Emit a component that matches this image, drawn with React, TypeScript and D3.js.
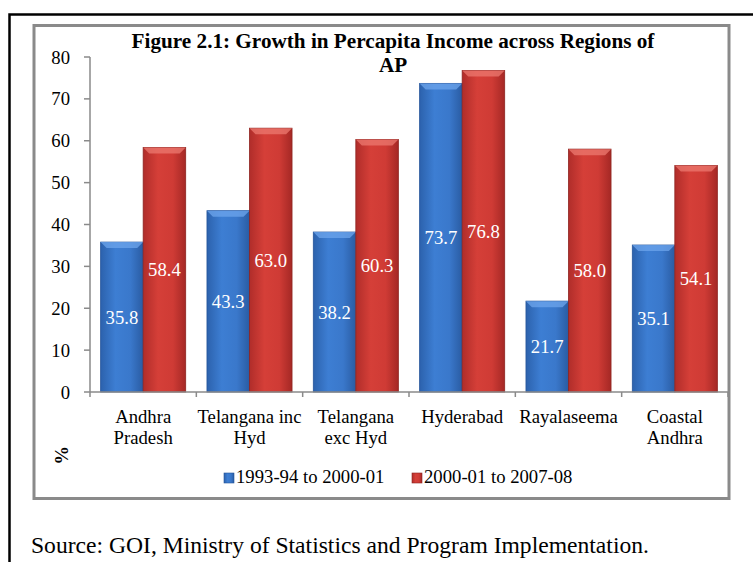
import React from "react";
import * as d3 from "d3";

// Values
const regions = [
  ["Andhra", "Pradesh"],
  ["Telangana inc", "Hyd"],
  ["Telangana", "exc Hyd"],
  ["Hyderabad"],
  ["Rayalaseema"],
  ["Coastal", "Andhra"],
];
const seriesNames = ["1993-94 to 2000-01", "2000-01 to 2007-08"];
const period1 = [35.8, 43.3, 38.2, 73.7, 21.7, 35.1];
const period2 = [58.4, 63.0, 60.3, 76.8, 58.0, 54.1];
const yTicks = [0, 10, 20, 30, 40, 50, 60, 70, 80];

const W = 753;
const H = 562;
const font = "'Liberation Serif', 'Times New Roman', serif";
const fs = 18.7;

const App = () => {
  const keys = regions.map((r) => r.join(" "));
  const series = [period1, period2];

  const x0 = d3
    .scaleBand()
    .domain(keys)
    .range([90, 728])
    .paddingInner(0.2)
    .paddingOuter(0.1);
  const x1 = d3
    .scaleBand()
    .domain(["0", "1"])
    .range([0, x0.bandwidth()]);
  const y = d3.scaleLinear().domain([0, 80]).range([392, 57]);

  const fills = ["url(#gBlue)", "url(#gRed)"];
  const tops = ["#6ea6ec", "#ec7a70"];
  const edges = ["#24549a", "#8e2420"];

  // tick positions on the category axis (group boundaries)
  const step = x0.step();
  const catTicks = d3.range(keys.length + 1).map((i) => 90 + i * step);

  return (
    <svg
      width={W}
      height={H}
      style={{ position: "absolute", left: 0, top: 0, fontFamily: font }}
    >
      <defs>
        <linearGradient id="gBlue" x1="0" x2="1" y1="0" y2="0">
          <stop offset="0" stopColor="#2c62ad" />
          <stop offset="0.35" stopColor="#3d7ed3" />
          <stop offset="0.7" stopColor="#3a78cb" />
          <stop offset="1" stopColor="#2a5ca3" />
        </linearGradient>
        <linearGradient id="gRed" x1="0" x2="1" y1="0" y2="0">
          <stop offset="0" stopColor="#b02d2a" />
          <stop offset="0.35" stopColor="#d53f38" />
          <stop offset="0.7" stopColor="#cf3b35" />
          <stop offset="1" stopColor="#a52825" />
        </linearGradient>
      </defs>
      <rect x={0} y={0} width={W} height={H} fill="#fff" />
      {/* outer frame (cropped at right/bottom) */}
      <rect
        x={9.5}
        y={14.5}
        width={W + 20}
        height={H + 20}
        fill="none"
        stroke="#000"
        strokeWidth={2.5}
      />
      {/* chart area frame */}
      <rect
        x={34}
        y={25.5}
        width={695}
        height={473}
        fill="#fff"
        stroke="#8a8a8a"
        strokeWidth={3}
      />

      {/* title */}
      <text x={393} y={48} textAnchor="middle" fontWeight="bold" fontSize={21.2} fill="#000">
        Figure 2.1: Growth in Percapita Income across Regions of
      </text>
      <text x={393} y={72} textAnchor="middle" fontWeight="bold" fontSize={21.2} fill="#000">
        AP
      </text>

      {/* y axis */}
      <line x1={90} x2={90} y1={y(80)} y2={y(0)} stroke="#8a8a8a" strokeWidth={1.5} />
      {yTicks.map((t) => (
        <g key={t}>
          <line x1={84} x2={90} y1={y(t)} y2={y(t)} stroke="#8a8a8a" strokeWidth={1.5} />
          <text x={70} y={y(t)} dy="0.35em" textAnchor="end" fontSize={fs}>
            {t}
          </text>
        </g>
      ))}

      {/* bars */}
      {keys.map((k, i) => (
        <g key={k} transform={`translate(${x0(k)},0)`}>
          {series.map((s, j) => {
            const bx = x1(String(j)) as number;
            const bw = x1.bandwidth();
            const top = y(s[i]);
            const h = y(0) - top;
            return (
              <g key={j}>
                <rect x={bx} y={top} width={bw} height={h} fill={fills[j]} stroke={edges[j]} strokeWidth={0.8} />
                <path
                  d={`M${bx},${top}H${bx + bw}L${bx + bw - 6},${top + 6}H${bx + 6}Z`}
                  fill={tops[j]}
                  opacity={0.75}
                />
                <text
                  x={bx + bw / 2}
                  y={top + h / 2}
                  dy="0.35em"
                  textAnchor="middle"
                  fontSize={fs}
                  fill="#fff"
                >
                  {s[i].toFixed(1)}
                </text>
              </g>
            );
          })}
        </g>
      ))}

      {/* x axis */}
      <line x1={90} x2={728} y1={y(0)} y2={y(0)} stroke="#8a8a8a" strokeWidth={1.5} />
      {catTicks.map((t, i) => (
        <line key={i} x1={t} x2={t} y1={y(0)} y2={y(0) + 5} stroke="#8a8a8a" strokeWidth={1.5} />
      ))}
      {regions.map((r, i) => {
        const cx = (x0(keys[i]) as number) + x0.bandwidth() / 2;
        return (
          <text key={keys[i]} x={cx} y={423} textAnchor="middle" fontSize={fs}>
            {r.map((line, li) => (
              <tspan key={li} x={cx} dy={li === 0 ? 0 : 20.5}>
                {line}
              </tspan>
            ))}
          </text>
        );
      })}

      {/* misplaced axis title */}
      <text
        x={0}
        y={0}
        transform="translate(62,455) rotate(90)"
        textAnchor="middle"
        dy="0.35em"
        fontWeight="bold"
        fontSize={fs}
      >
        %
      </text>

      {/* legend */}
      {seriesNames.map((n, j) => {
        const lx = [224, 412][j];
        return (
          <g key={n}>
            <rect x={lx} y={473} width={10} height={10} fill={fills[j]} stroke={edges[j]} strokeWidth={0.6} />
            <text x={lx + 12} y={483} fontSize={fs}>
              {n}
            </text>
          </g>
        );
      })}

      {/* source */}
      <text x={31} y={553} fontSize={23.6}>
        Source: GOI, Ministry of Statistics and Program Implementation.
      </text>
    </svg>
  );
};

export default App;
